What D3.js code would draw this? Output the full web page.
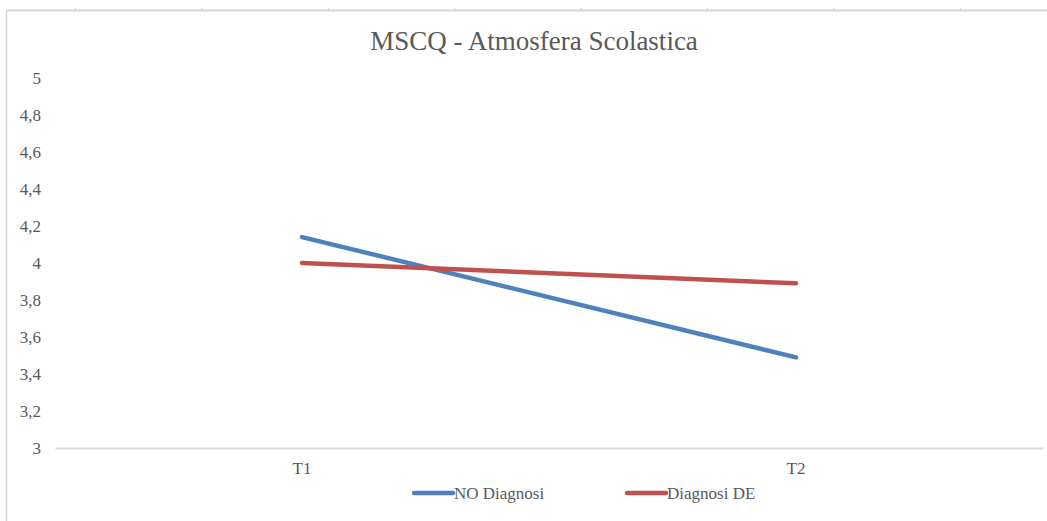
<!DOCTYPE html>
<html>
<head>
<meta charset="utf-8">
<script src="https://cdn.jsdelivr.net/npm/d3@7/dist/d3.min.js"></script>
<style>
  html, body { margin: 0; padding: 0; background: #ffffff; }
  svg { display: block; }
  svg text { font-family: "Liberation Serif", "Times New Roman", serif; }
</style>
</head>
<body>
<svg id="chart" width="1047" height="521"></svg>
<script>
// Chart data
const categories = ["T1", "T2"];
const seriesNames = ["NO Diagnosi", "Diagnosi DE"];
const noDiagnosi = [4.14, 3.49];
const diagnosiDE = [4.00, 3.89];
const yTicks = [3, 3.2, 3.4, 3.6, 3.8, 4, 4.2, 4.4, 4.6, 4.8, 5];
const titleText = "MSCQ - Atmosfera Scolastica";

const seriesColors = ["#4f81bd", "#c0504d"];
const series = [noDiagnosi, diagnosiDE];

const W = 1047, H = 521;
const svg = d3.select("#chart");
const textColor = "#595959";

// Sheet frame around the chart object
svg.append("line").attr("x1", 6).attr("x2", W).attr("y1", 10.5).attr("y2", 10.5)
  .attr("stroke", "#d6d6d6").attr("stroke-width", 2);
svg.append("line").attr("x1", 6.5).attr("x2", 6.5).attr("y1", 10).attr("y2", H)
  .attr("stroke", "#d6d6d6").attr("stroke-width", 1.5);
// column separators peeking above the frame
const colMarks = d3.range(8).map(i => 75.5 + i * 126.4);
svg.selectAll("line.colmark").data(colMarks).join("line")
  .attr("class", "colmark")
  .attr("x1", d => d).attr("x2", d => d).attr("y1", 8).attr("y2", 10)
  .attr("stroke", "#cfcfcf").attr("stroke-width", 1);

// Scales
const plot = { left: 55, right: 1043, top: 78, bottom: 448 };
const x = d3.scaleBand().domain(categories).range([plot.left, plot.right]);
const y = d3.scaleLinear().domain([3, 5]).range([plot.bottom, plot.top]);

// Title
svg.append("text")
  .attr("x", 534).attr("y", 50)
  .attr("text-anchor", "middle")
  .style("font-size", "27px")
  .attr("fill", textColor)
  .text(titleText);

// Y axis labels (comma decimal)
const fmt = d => d3.format(".1~f")(d).replace(".", ",");
const yAxis = d3.axisLeft(y).tickValues(yTicks).tickSize(0).tickPadding(0).tickFormat(fmt);
const gy = svg.append("g").attr("transform", `translate(41,0)`).call(yAxis);
gy.attr("font-family", null);
gy.select(".domain").remove();
gy.selectAll("text")
  .style("font-size", "17px").attr("fill", textColor);

// X axis
const xAxis = d3.axisBottom(x).tickSize(0).tickPadding(14);
const gx = svg.append("g").attr("transform", `translate(0,${plot.bottom})`).call(xAxis);
gx.attr("font-family", null);
gx.select(".domain").attr("stroke", "#d9d9d9").attr("stroke-width", 2);
gx.selectAll("text")
  .style("font-size", "17px").attr("fill", textColor);

// Lines
const line = d3.line()
  .x((d, i) => x(categories[i]) + x.bandwidth() / 2)
  .y(d => y(d));
svg.selectAll("path.series").data(series).join("path")
  .attr("class", "series")
  .attr("d", d => line(d))
  .attr("fill", "none")
  .attr("stroke", (d, i) => seriesColors[i])
  .attr("stroke-width", 4.5)
  .attr("stroke-linecap", "round");

// Legend
const legendItems = [
  { x: 414, name: seriesNames[0], color: seriesColors[0] },
  { x: 627, name: seriesNames[1], color: seriesColors[1] }
];
const lg = svg.append("g").selectAll("g").data(legendItems).join("g")
  .attr("transform", d => `translate(${d.x},493)`);
lg.append("line").attr("x1", 0).attr("x2", 39).attr("y1", 0).attr("y2", 0)
  .attr("stroke", d => d.color).attr("stroke-width", 4.5).attr("stroke-linecap", "round");
lg.append("text").attr("x", 40).attr("y", 6)
  .style("font-size", "17px").attr("fill", textColor)
  .text(d => d.name);
</script>
</body>
</html>
